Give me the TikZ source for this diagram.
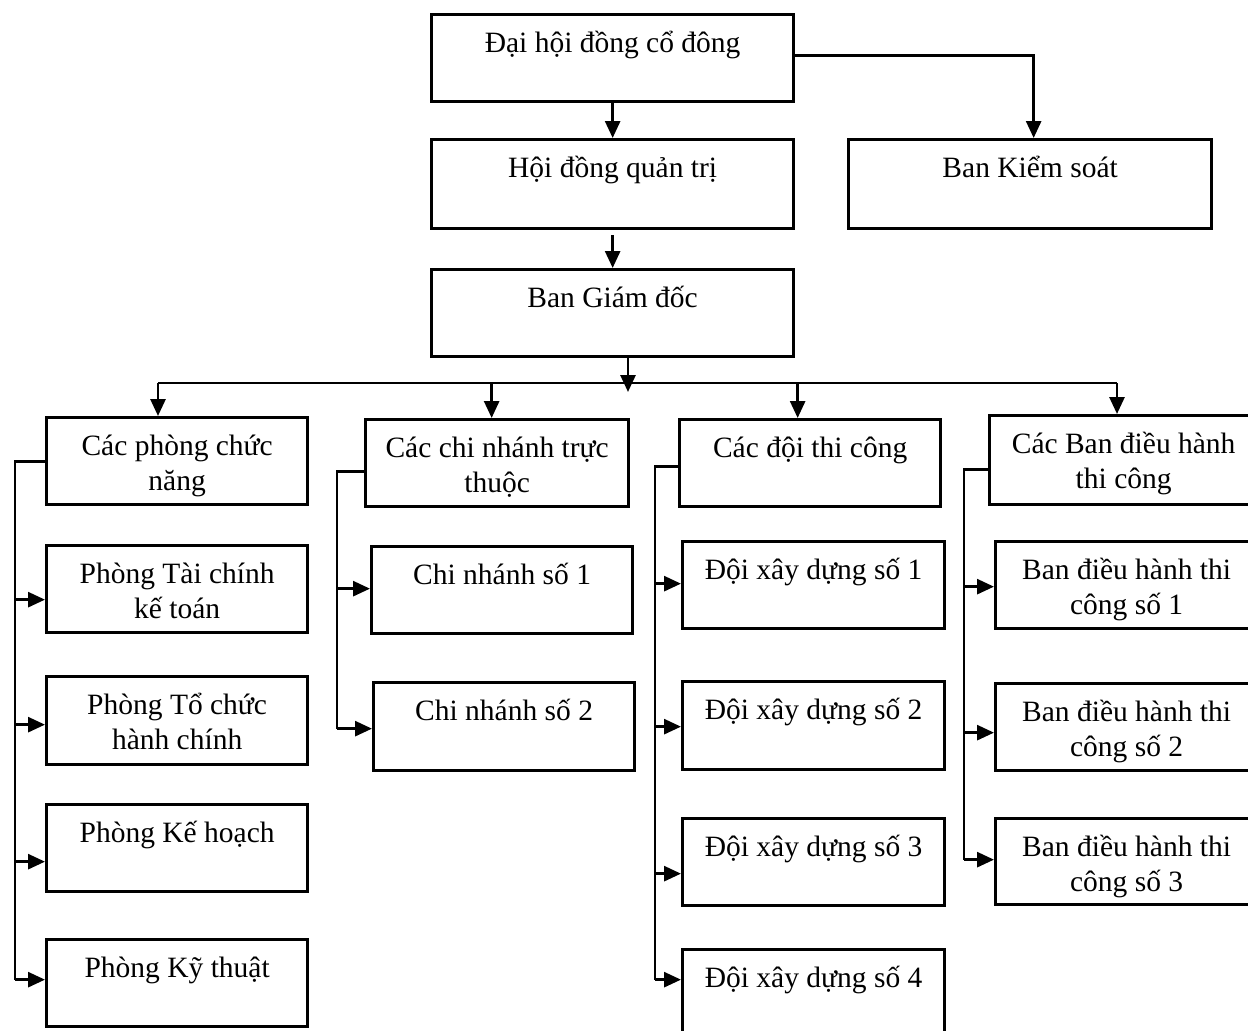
\documentclass[tikz,border=0pt]{standalone}
\usepackage{fontspec}
\setmainfont{Liberation Serif}
\usetikzlibrary{arrows.meta}
\newcommand{\bt}[3]{\parbox[t][#2][t]{#1}{\centering\fontsize{29.5}{35}\selectfont\rule{0pt}{38pt}#3\par}}
\begin{document}
\begin{tikzpicture}[x=1pt,y=-1pt,
  box/.style={draw, line width=3.3pt, inner sep=0pt, anchor=north west},
  conn/.style={line width=2.8pt},
  arr/.style={conn, -{Triangle[length=17pt,width=15pt]}}]
\useasboundingbox[fill=white] (0,0) rectangle (1248,1031);
% top levels
\node[box] (dh)  at (430,13)  {\bt{362pt}{87pt}{Đại hội đồng cổ đông}};
\node[box] (hd)  at (430,138) {\bt{362pt}{89pt}{Hội đồng quản trị}};
\node[box] (bks) at (847,138) {\bt{363pt}{89pt}{Ban Kiểm soát}};
\node[box] (bgd) at (430,268) {\bt{362pt}{87pt}{Ban Giám đốc}};
% second level
\node[box] (c1) at (45,416)  {\bt{261pt}{87pt}{Các phòng chức\\năng}};
\node[box] (c2) at (364,418) {\bt{263pt}{87pt}{Các chi nhánh trực\\thuộc}};
\node[box] (c3) at (678,418) {\bt{261pt}{87pt}{Các đội thi công}};
\node[box] (c4) at (988,414) {\bt{268pt}{89pt}{Các Ban điều hành\\thi công}};
% column 1
\node[box] (p1) at (45,544) {\bt{261pt}{87pt}{Phòng Tài chính\\kế toán}};
\node[box] (p2) at (45,675) {\bt{261pt}{88pt}{Phòng Tổ chức\\hành chính}};
\node[box] (p3) at (45,803) {\bt{261pt}{87pt}{Phòng Kế hoạch}};
\node[box] (p4) at (45,938) {\bt{261pt}{87pt}{Phòng Kỹ thuật}};
% column 2
\node[box] (n1) at (370,545) {\bt{261pt}{87pt}{Chi nhánh số 1}};
\node[box] (n2) at (372,681) {\bt{261pt}{88pt}{Chi nhánh số 2}};
% column 3
\node[box] (d1) at (681,540) {\bt{262pt}{87pt}{Đội xây dựng số 1}};
\node[box] (d2) at (681,680) {\bt{262pt}{88pt}{Đội xây dựng số 2}};
\node[box] (d3) at (681,817) {\bt{262pt}{87pt}{Đội xây dựng số 3}};
\node[box] (d4) at (681,948) {\bt{262pt}{87pt}{Đội xây dựng số 4}};
% column 4
\node[box] (b1) at (994,540) {\bt{262pt}{87pt}{Ban điều hành thi\\công số 1}};
\node[box] (b2) at (994,682) {\bt{262pt}{87pt}{Ban điều hành thi\\công số 2}};
\node[box] (b3) at (994,817) {\bt{262pt}{86pt}{Ban điều hành thi\\công số 3}};
% top connectors
\draw[arr] (dh.south) -- (hd.north);
\draw[arr] ([yshift=-5pt]hd.south) -- (bgd.north);
\draw[arr] ([yshift=2.5pt]dh.east) -| ([xshift=3.5pt]bks.north);
% bus
\coordinate (bus) at (628,383);
\coordinate (busL) at (158,383);
\coordinate (busR) at (1117,383);
\draw[arr] (bgd.south -| bus) -- ([yshift=-9pt]bus);
\draw[conn] (busL) -- (busR);
\draw[arr] (busL) -- (busL |- c1.north);
\draw[arr] ([xshift=-5.5pt]c2.north |- busL) -- ([xshift=-5.5pt]c2.north);
\draw[arr] ([xshift=-12.5pt]c3.north |- busL) -- ([xshift=-12.5pt]c3.north);
\draw[arr] (busR) -- (busR |- c4.north);
% column 1 spine
\coordinate (s1) at (15,0);
\draw[conn] (c1.west) -- (c1.west -| s1) -- ([yshift=3.5pt]p4.west -| s1);
\draw[arr] ([yshift=-10.5pt]p1.west -| s1) -- ([yshift=-10.5pt]p1.west);
\draw[arr] ([yshift=-4pt]p2.west -| s1) -- ([yshift=-4pt]p2.west);
\draw[arr] ([yshift=-13.5pt]p3.west -| s1) -- ([yshift=-13.5pt]p3.west);
\draw[arr] ([yshift=3.5pt]p4.west -| s1) -- ([yshift=3.5pt]p4.west);
% column 2 spine
\coordinate (s2) at (337,0);
\draw[conn] ([yshift=-8.5pt]c2.west) -- ([yshift=-8.5pt]c2.west -| s2) -- ([yshift=-2pt]n2.west -| s2);
\draw[arr] ([yshift=1.5pt]n1.west -| s2) -- ([yshift=1.5pt]n1.west);
\draw[arr] ([yshift=-2pt]n2.west -| s2) -- ([yshift=-2pt]n2.west);
% column 3 spine
\coordinate (s3) at (655,0);
\draw[conn] ([yshift=-3.5pt]c3.west) -- ([yshift=-3.5pt]c3.west -| s3) -- ([yshift=13.5pt]d4.west -| s3);
\draw[arr] ([yshift=1.5pt]d1.west -| s3) -- ([yshift=1.5pt]d1.west);
\draw[arr] ([yshift=-1pt]d2.west -| s3) -- ([yshift=-1pt]d2.west);
\draw[arr] ([yshift=-11.5pt]d3.west -| s3) -- ([yshift=-11.5pt]d3.west);
\draw[arr] ([yshift=13.5pt]d4.west -| s3) -- ([yshift=13.5pt]d4.west);
% column 4 spine
\coordinate (s4) at (964,0);
\draw[conn] ([yshift=-9.5pt]c4.west) -- ([yshift=-9.5pt]c4.west -| s4) -- ([yshift=2pt]b3.west -| s4);
\draw[arr] ([yshift=-1.5pt]b1.west -| s4) -- ([yshift=-1.5pt]b1.west);
\draw[arr] ([yshift=-5.5pt]b2.west -| s4) -- ([yshift=-5.5pt]b2.west);
\draw[arr] ([yshift=2pt]b3.west -| s4) -- ([yshift=2pt]b3.west);
\end{tikzpicture}
\end{document}
